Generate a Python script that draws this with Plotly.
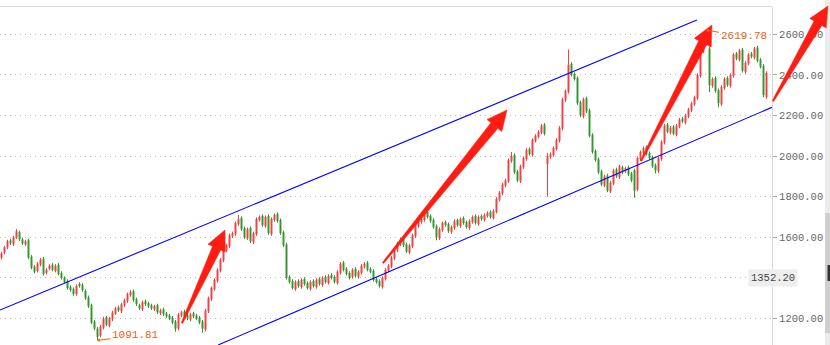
import plotly.graph_objects as go
import math

# ---------------- data ----------------
opens = [
1500,1525,1550,1585,1565,1600,1625,1590,1565,1585,
1505,1455,1435,1465,1495,1425,1445,1465,1435,1465,
1425,1400,1385,1355,1345,1320,1370,1365,1335,1305,
1265,1185,1150,1115,1155,1205,1165,1195,1225,1255,
1235,1265,1285,1315,1335,1295,1265,1245,1285,1275,
1265,1245,1265,1225,1245,1225,1215,1205,1185,1150,
1215,1235,1215,1195,1225,1215,1205,1185,1145,1235,
1295,1345,1385,1435,1485,1535,1555,1605,1615,1665,
1695,1645,1595,1645,1575,1615,1685,1705,1655,1705,
1615,1685,1715,1685,1625,1565,1405,1385,1345,1385,
1355,1395,1375,1345,1385,1355,1395,1365,1405,1375,
1415,1405,1375,1425,1475,1445,1425,1405,1445,1405,
1425,1455,1475,1445,1435,1395,1385,1355,1395,1435,
1455,1495,1535,1565,1595,1565,1525,1555,1605,1655,
1675,1685,1725,1705,1685,1655,1595,1635,1675,1665,
1625,1645,1685,1655,1695,1675,1645,1675,1705,1665,
1705,1685,1705,1725,1695,1725,1785,1815,1855,1875,
1975,2005,1925,1875,1945,1985,2035,2005,2075,2095,
2115,2155,1960,1995,2005,2035,2075,2135,2275,2315,
2455,2405,2385,2265,2195,2285,2225,2105,2025,1985,
1925,1855,1905,1825,1865,1935,1895,1945,1925,1945,
1915,1930,1835,1985,2015,2045,2015,1995,1955,1925,
1985,2065,2155,2115,2145,2105,2145,2185,2165,2195,
2225,2255,2285,2395,2515,2555,2530,2345,2385,2325,
2255,2335,2385,2345,2395,2505,2475,2525,2415,2455,
2505,2485,2535,2475,2445,2290]

closes = [
1520,1550,1580,1570,1600,1630,1590,1570,1580,1500,
1450,1430,1470,1490,1420,1440,1460,1440,1460,1420,
1400,1380,1350,1340,1320,1360,1360,1340,1300,1260,
1180,1150,1110,1160,1200,1170,1200,1230,1250,1240,
1270,1290,1320,1330,1290,1270,1250,1280,1270,1260,
1250,1260,1230,1240,1220,1210,1200,1180,1150,1220,
1230,1210,1200,1220,1210,1200,1180,1150,1240,1300,
1350,1390,1440,1490,1540,1560,1610,1620,1670,1690,
1640,1600,1640,1580,1620,1690,1700,1660,1700,1620,
1690,1710,1680,1620,1560,1400,1380,1350,1380,1360,
1390,1370,1350,1380,1360,1390,1370,1400,1380,1410,
1400,1380,1430,1470,1440,1420,1400,1440,1410,1430,
1460,1470,1440,1430,1390,1380,1360,1400,1440,1460,
1500,1540,1570,1590,1560,1530,1560,1610,1660,1680,
1690,1720,1700,1680,1650,1600,1640,1670,1660,1630,
1650,1680,1660,1690,1670,1650,1680,1700,1670,1700,
1690,1710,1720,1700,1730,1790,1820,1860,1880,1980,
2000,1920,1880,1950,1990,2030,2010,2080,2100,2120,
2150,2110,2000,2010,2040,2080,2140,2280,2320,2450,
2400,2380,2260,2200,2280,2220,2100,2020,1980,1920,
1860,1900,1830,1870,1930,1900,1950,1920,1940,1910,
1880,1830,1990,2020,2040,2010,1990,1950,1930,1990,
2070,2150,2120,2140,2110,2150,2180,2170,2200,2230,
2260,2290,2400,2520,2560,2600,2350,2380,2320,2260,
2340,2380,2350,2400,2500,2480,2520,2420,2460,2500,
2490,2530,2470,2440,2300,2410]

highs = [
1528,1558,1588,1593,1608,1640,1633,1598,1588,1593,
1513,1463,1478,1498,1503,1448,1468,1473,1468,1473,
1433,1408,1393,1363,1353,1368,1378,1373,1343,1313,
1273,1193,1158,1168,1208,1213,1208,1238,1258,1263,
1278,1298,1328,1340,1343,1303,1273,1288,1293,1283,
1273,1268,1273,1248,1253,1233,1223,1213,1193,1228,
1238,1243,1223,1228,1233,1223,1213,1193,1248,1308,
1358,1398,1448,1498,1548,1568,1618,1628,1678,1710,
1703,1653,1648,1653,1628,1698,1708,1713,1708,1713,
1698,1718,1723,1693,1633,1573,1413,1393,1388,1393,
1398,1403,1383,1388,1393,1398,1403,1408,1413,1418,
1423,1413,1438,1478,1483,1453,1433,1448,1453,1438,
1468,1478,1483,1453,1443,1403,1393,1408,1448,1468,
1508,1548,1578,1598,1603,1573,1568,1618,1668,1688,
1698,1728,1733,1713,1693,1663,1648,1678,1683,1673,
1658,1688,1693,1698,1703,1683,1688,1708,1713,1708,
1713,1718,1728,1733,1738,1798,1828,1868,1888,1988,
2020,2013,1933,1958,1998,2038,2043,2088,2108,2128,
2158,2163,2015,2018,2048,2088,2148,2288,2328,2525,
2463,2413,2393,2273,2288,2293,2233,2113,2033,1993,
1933,1908,1913,1878,1938,1943,1958,1953,1948,1953,
1923,1938,1998,2028,2048,2053,2023,2003,1963,1998,
2078,2158,2163,2148,2153,2158,2188,2193,2208,2238,
2268,2298,2408,2528,2568,2620,2538,2388,2393,2333,
2348,2388,2393,2408,2508,2513,2528,2533,2468,2508,
2513,2538,2543,2483,2453,2418]

lows = [
1492,1517,1542,1562,1557,1592,1582,1562,1557,1492,
1442,1422,1427,1457,1412,1417,1437,1432,1427,1412,
1392,1372,1342,1332,1312,1312,1352,1332,1292,1252,
1172,1142,1092,1107,1147,1162,1157,1187,1217,1232,
1227,1257,1277,1307,1282,1262,1242,1237,1262,1252,
1242,1237,1222,1217,1212,1202,1192,1172,1135,1142,
1207,1202,1192,1187,1202,1192,1172,1130,1137,1227,
1287,1337,1377,1427,1477,1527,1547,1597,1607,1657,
1632,1592,1587,1572,1567,1607,1677,1652,1647,1612,
1607,1677,1672,1612,1552,1392,1372,1342,1337,1352,
1347,1362,1342,1337,1352,1347,1362,1357,1372,1367,
1392,1372,1367,1417,1432,1412,1392,1397,1402,1397,
1417,1447,1432,1422,1382,1372,1352,1347,1387,1427,
1447,1487,1527,1557,1552,1522,1517,1547,1597,1647,
1667,1677,1692,1672,1642,1585,1587,1627,1652,1622,
1617,1637,1652,1647,1662,1642,1637,1667,1662,1657,
1682,1677,1697,1692,1687,1717,1777,1807,1847,1867,
1967,1912,1872,1867,1937,1977,2002,1997,2067,2087,
2107,2102,1800,1987,1997,2027,2067,2127,2267,2307,
2392,2372,2252,2192,2187,2212,2092,2012,1972,1912,
1852,1847,1822,1817,1857,1892,1887,1912,1917,1902,
1872,1795,1827,1977,2007,2002,1982,1942,1915,1917,
1977,2057,2112,2107,2102,2097,2137,2162,2157,2187,
2217,2247,2277,2387,2507,2547,2315,2337,2312,2240,
2247,2327,2342,2337,2387,2472,2467,2412,2407,2447,
2482,2477,2462,2432,2290,2282]

bar_index = list(range(len(closes)))

tick_values = [1200, 1400, 1600, 1800, 2000, 2200, 2400, 2600]
tick_labels = ["1200.00", "", "1600.00", "1800.00", "2000.00", "2200.00", "2400.00", "2600.00"]
last_price_label = "1352.20"
low_label = "1091.81"
high_label = "2619.78"
low_idx, high_idx = 32, 235

# channel lines: (bar index, price) endpoints
upper_channel = [(-0.5, 1242), (231.8, 2670)]
lower_channel = [(72.2, 1069.5), (256.8, 2240)]

# ---------------- layout geometry ----------------
W, H = 830, 345
ML, MR, MT, MB = 0, 58, 7, 0
PW, PH = W - ML - MR, H - MT - MB
Y_RANGE = [1069.5, 2734.5]
X_RANGE = [-0.5, 256.83]

def px(x):
    return (x - ML) / PW

def py(y):
    return (H - MB - y) / PH

RED = "#ee4040"
GREEN = "#33952b"
ORANGE = "#f06010"
MONO = "Liberation Mono, DejaVu Sans Mono, monospace"

fig = go.Figure()
fig.add_trace(go.Candlestick(
    x=bar_index, open=opens, high=highs, low=lows, close=closes,
    increasing=dict(line=dict(color=RED, width=1), fillcolor=RED),
    decreasing=dict(line=dict(color=GREEN, width=1), fillcolor=GREEN),
    whiskerwidth=0, showlegend=False, hoverinfo="skip",
))

shapes = []
for (a, b) in (upper_channel, lower_channel):
    shapes.append(dict(type="line", xref="x", yref="y", x0=a[0], y0=a[1], x1=b[0], y1=b[1],
                       line=dict(color="#0000ff", width=1.1)))

# top border and scroll strip decorations
shapes.append(dict(type="line", xref="paper", yref="paper", x0=0, x1=1, y0=py(6.5), y1=py(6.5),
                   line=dict(color="#dcdcdc", width=1)))
shapes.append(dict(type="rect", xref="paper", yref="paper", x0=px(825), x1=px(830), y0=py(345), y1=py(0),
                   fillcolor="#ececec", line=dict(width=0)))
shapes.append(dict(type="rect", xref="paper", yref="paper", x0=px(825), x1=px(830), y0=py(333), y1=py(213),
                   fillcolor="#cfcfcf", line=dict(width=0)))
shapes.append(dict(type="rect", xref="paper", yref="paper", x0=px(827.5), x1=px(830), y0=py(281), y1=py(265),
                   fillcolor="#333333", line=dict(width=0)))

# hand-drawn red arrows (pixel tail -> tip)
arrows = [((182, 323), (225, 230)), ((383, 263), (507, 110)), ((641, 161), (712, 25)), ((773, 101), (828, 6))]
for (x0, y0), (x1, y1) in arrows:
    L = math.hypot(x1 - x0, y1 - y0)
    dx, dy = (x1 - x0) / L, (y1 - y0) / L
    nx, ny = -dy, dx
    hl = 20
    bx, by = x1 - dx * hl, y1 - dy * hl
    pts = [
        (x0 + nx * 0.8, y0 + ny * 0.8),
        (bx + nx * 4.5, by + ny * 4.5),
        (bx + nx * 9.5, by + ny * 9.5),
        (x1, y1),
        (bx - nx * 9.5, by - ny * 9.5),
        (bx - nx * 4.5, by - ny * 4.5),
        (x0 - nx * 0.8, y0 - ny * 0.8),
    ]
    path = "M " + " L ".join(f"{px(a):.5f},{py(b):.5f}" for a, b in pts) + " Z"
    shapes.append(dict(type="path", xref="paper", yref="paper", path=path,
                       fillcolor="#ff1c12", line=dict(color="#ff1c12", width=0.5)))

annotations = [
    dict(x=low_idx, y=lows[low_idx], xref="x", yref="y", text=low_label, showarrow=True,
         ax=38, ay=-5, arrowhead=1, arrowsize=0.7, arrowwidth=1, arrowcolor=ORANGE,
         font=dict(family=MONO, size=11, color=ORANGE)),
    dict(x=high_idx, y=highs[high_idx], xref="x", yref="y", text=high_label, showarrow=True,
         ax=37, ay=6, arrowhead=1, arrowsize=0.7, arrowwidth=1, arrowcolor=ORANGE,
         font=dict(family=MONO, size=11, color=ORANGE)),
    dict(x=px(798.5), y=1400, xref="paper", yref="y", text=last_price_label, showarrow=False,
         bgcolor="#eeeeee", borderpad=2,
         font=dict(family=MONO, size=10.5, color="#444444")),
    dict(x=px(730), y=py(3), xref="paper", yref="paper", text="成交量  均线", showarrow=False,
         yanchor="bottom", font=dict(family="Noto Sans CJK SC", size=11, color="#555555")),
]

fig.update_layout(
    width=W, height=H,
    margin=dict(l=ML, r=MR, t=MT, b=MB),
    paper_bgcolor="white", plot_bgcolor="white",
    boxgap=0.55,
    shapes=shapes, annotations=annotations,
    xaxis=dict(range=X_RANGE, visible=False, rangeslider=dict(visible=False), fixedrange=True),
    yaxis=dict(range=Y_RANGE, side="right", tickvals=tick_values, ticktext=tick_labels,
               showgrid=True, gridcolor="#bdbdbd", griddash="1px,4px", gridwidth=1,
               zeroline=False, showline=True, linecolor="#d8d8d8", linewidth=1,
               ticks="outside", ticklen=4, tickcolor="#aaaaaa",
               tickfont=dict(family=MONO, size=10.5, color="#666666"),
               fixedrange=True),
)

fig.write_html("out.html")
